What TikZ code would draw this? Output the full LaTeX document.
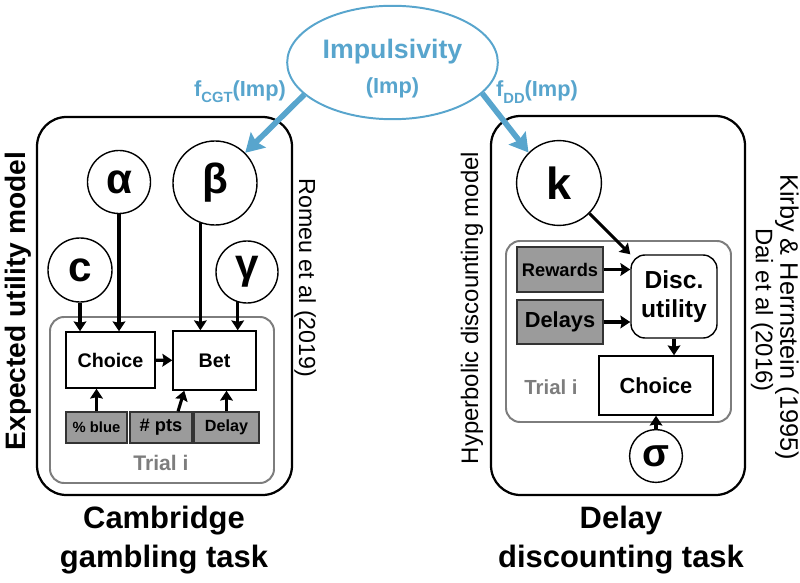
\documentclass[tikz,border=0pt]{standalone}
\usepackage{fontspec}
\setmainfont{Liberation Sans}
\usetikzlibrary{shapes.geometric}
\usetikzlibrary{arrows.meta}

\definecolor{impblue}{RGB}{88,165,205}
\definecolor{obsgray}{RGB}{155,155,155}
\definecolor{trialgray}{RGB}{125,125,125}

\begin{document}
\begin{tikzpicture}[x=0.025cm, y=-0.025cm,
    param/.style={circle, draw, line width=1pt, inner sep=0pt, font=\fontsize{30}{30}\selectfont\bfseries},
    latent/.style={rectangle, draw, line width=1pt, fill=white, font=\fontsize{14}{16}\selectfont\bfseries},
    observed/.style={rectangle, draw=black!80, line width=0.8pt, fill=obsgray, font=\fontsize{11.5}{13}\selectfont\bfseries},
    link/.style={line width=2.2pt, -{Stealth[length=7pt, width=9pt, inset=1pt]}},
    implink/.style={line width=4pt, impblue, -{Stealth[length=13pt, width=15pt, inset=2pt]}},
    title/.style={align=center, font=\fontsize{22}{28}\selectfont\bfseries},
    side/.style={font=\fontsize{17}{20}\selectfont}]
\useasboundingbox (0,0) rectangle (800,583);

% outer model boxes
\draw[line width=1.6pt, rounded corners=21pt] (37,117) rectangle (292,495);
\draw[line width=1.6pt, rounded corners=21pt] (491,116) rectangle (745,495);
\draw[trialgray, line width=1.4pt, rounded corners=10pt] (50,317) rectangle (274,483);
\draw[trialgray, line width=1.4pt, rounded corners=10pt] (506,241) rectangle (731,422);

% impulsivity
\node[ellipse, draw=impblue, line width=1.4pt, minimum width=4.475cm, minimum height=2.525cm, text=impblue, align=center, font=\bfseries] (imp) at (392.5,62.5)
    {\rule{0pt}{22pt}{\fontsize{19}{22}\selectfont Impulsivity}\\[9pt]{\fontsize{15.5}{18}\selectfont (Imp)}};
\node[text=impblue, font=\fontsize{15.5}{18}\selectfont\bfseries] (fcgt) at (240,92)
    {f\raisebox{-0.55ex}{\fontsize{10.5}{12}\selectfont CGT}(Imp)};
\node[text=impblue, font=\fontsize{15.5}{18}\selectfont\bfseries] (fdd) at (537,92)
    {f\raisebox{-0.55ex}{\fontsize{10.5}{12}\selectfont DD}(Imp)};

% Cambridge gambling task
\node[param, minimum size=1.6cm] (c) at (80,270) {c};
\node[param, minimum size=1.575cm] (alpha) at (119,182) {α};
\node[param, minimum size=2.1cm] (beta) at (215,183) {β};
\node[param, minimum size=1.55cm] (gamma) at (247,272) {γ};
\node[latent, minimum width=2.225cm, minimum height=1.4cm] (choiceL) at (110.5,360) {Choice};
\node[latent, minimum width=2.075cm, minimum height=1.475cm] (bet) at (214.5,360.5) {Bet};
\node[observed, minimum width=1.525cm, minimum height=0.775cm, font=\fontsize{10.5}{12}\selectfont\bfseries] (blue) at (96.5,427.5) {\% blue};
\node[observed, minimum width=1.55cm, minimum height=0.775cm, font=\fontsize{13}{14}\selectfont\bfseries] (pts) at (161,427.5) {\# pts};
\node[observed, minimum width=1.625cm, minimum height=0.775cm] (delay) at (226.5,427.5) {Delay};
\node[text=trialgray, font=\fontsize{15}{17}\selectfont\bfseries] (trialL) at (161,463) {Trial i};

\draw[link] (c) -- (c |- choiceL.north);
\draw[link] (alpha) -- (alpha |- choiceL.north);
\draw[link] (beta.250) -- (beta.250 |- bet.north);
\draw[link] (gamma.253) -- (gamma.253 |- bet.north);
\draw[link] (choiceL) -- (bet);
\draw[link] (blue) -- (blue |- choiceL.south);
\draw[link] ([xshift=0.425cm]pts.north) -- ([xshift=0.3cm]bet.south west);
\draw[link] (delay) -- (delay |- bet.south);

\node[side, rotate=90, font=\fontsize{20}{22}\selectfont\bfseries] (eu) at (18,301) {Expected utility model};
\node[side, rotate=-90, font=\fontsize{16.5}{19}\selectfont] (romeu) at (305,278) {Romeu et al (2019)};
\node[title] (cgt) at (164,540) {Cambridge\\gambling task};

% Delay discounting task
\node[param, minimum size=2.12cm, font=\fontsize{32}{32}\selectfont\bfseries] (k) at (559,183) {k};
\node[param, minimum size=1.32cm, font=\fontsize{28}{28}\selectfont\bfseries] (sigma) at (656,456) {σ};
\node[observed, minimum width=2.15cm, minimum height=1.125cm, font=\fontsize{13}{15}\selectfont\bfseries] (rewards) at (560,269.5) {Rewards};
\node[observed, minimum width=2.15cm, minimum height=1.1cm, font=\fontsize{15.5}{17}\selectfont\bfseries] (delays) at (560,322) {Delays};
\node[latent, rounded corners=10pt, minimum width=2.15cm, minimum height=2.075cm, align=center, font=\fontsize{17.5}{21}\selectfont\bfseries] (disc) at (674,296.5) {Disc.\\utility};
\node[latent, minimum width=2.85cm, minimum height=1.475cm, font=\fontsize{15.5}{17}\selectfont\bfseries] (choiceR) at (656,385.5) {Choice};
\node[text=trialgray, font=\fontsize{14.5}{17}\selectfont\bfseries] (trialR) at (551,387) {Trial i};

\draw[link] (k) -- (disc.north west);
\draw[link] (rewards) -- (rewards -| disc.west);
\draw[link] (delays) -- (delays -| disc.west);
\draw[link] (disc) -- (disc |- choiceR.north);
\draw[link] (sigma) -- (sigma |- choiceR.south);

\node[side, rotate=90] (hyp) at (472,308) {Hyperbolic discounting model};
\node[side, rotate=-90, font=\fontsize{18}{20}\selectfont] (kirby) at (787,317) {Kirby \& Herrnstein (1995)};
\node[side, rotate=-90] (dai) at (762,310) {Dai et al (2016)};
\node[title] (ddt) at (621,540) {Delay\\discounting task};

% impulsivity links
\draw[implink] (imp.200) -- (beta.45);
\draw[implink] (imp.341) -- (k.135);

\end{tikzpicture}
\end{document}
